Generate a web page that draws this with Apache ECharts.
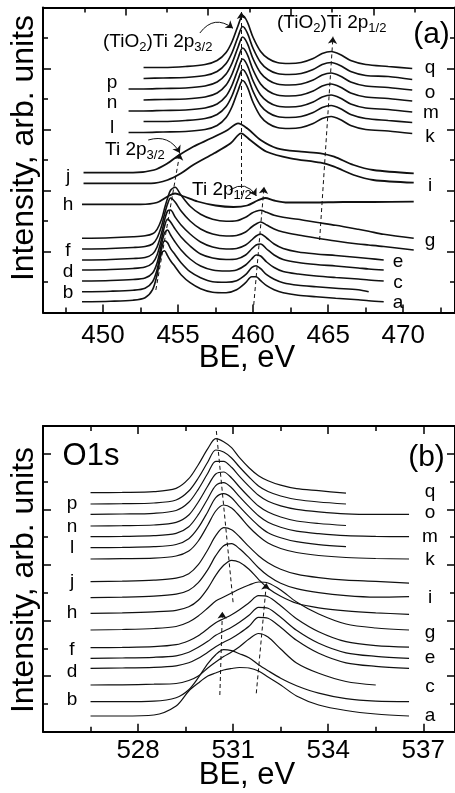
<!DOCTYPE html>
<html><head><meta charset="utf-8">
<script src="https://cdn.jsdelivr.net/npm/echarts/dist/echarts.min.js"></script>
<style>html,body{margin:0;padding:0;background:#fff}#c{width:455px;height:793px}</style>
</head><body><div id="c"></div>
<script>
// ---------------- Panel (a): Ti 2p ----------------
const A_TICKS_MAJOR = [450, 455, 460, 465, 470];
const A_TICKS_MINOR = [447.5, 452.5, 457.5, 462.5, 467.5, 472.5];
const A_LABELS = [450, 455, 460, 465, 470];

// upper group k..q (BE, eV)
const A_X_UP = [451.7, 452.7, 454.0, 455.5, 456.8, 457.6, 458.2, 458.6, 459.0, 459.3, 459.6, 460.0, 460.5, 461.0, 461.6, 462.4, 463.2, 464.0, 464.6, 465.2, 465.8, 466.5, 467.5, 469.0, 470.6];
const A_q = [null,245,245,246,248,252,260,271,287,297,291,275,261,254,250,249,250,254,259,261,258,252,248,246,244];
const A_p = [null,234,234.5,235,237,241,249,260,276,286,280,264,250,243,239,238,239,243,248,250,247,241,237,236,233];
const A_o = [223.5,223.5,224,224.5,226.5,230.5,238.5,249.5,265.5,275.5,269.5,253.5,239.5,232.5,228.5,227.5,228.5,232.5,237.5,239.5,236.5,230.5,226.5,225,222.5];
const A_n = [null,212.5,213,213.5,215.5,219.5,227.5,238.5,254.5,264.5,258.5,242.5,228.5,221.5,217.5,216.5,217.5,221.5,226.5,228.5,225.5,219.5,215.5,214,211.5];
const A_m = [201.5,201.5,202,202.5,204.5,208.5,216.5,227.5,243.5,253.5,247.5,231.5,217.5,210.5,206.5,205.5,206.5,210.5,215.5,217.5,214.5,208.5,204.5,203,200.5];
const A_l = [null,191,191,192,194,198,206,217,233,243,237,221,207,200,196,195,196,200,205,207,204,198,194,192,190];
const A_k = [180,180,180.5,181,183,187,195,206,222,232,226,210,196,189,185,184,185,189,194,196,193,187,183,181.5,179];

// middle group
const A_X_J = [448.7, 452.0, 453.4, 454.3, 454.9, 456.0, 457.2, 458.3, 459.0, 459.6, 460.5, 461.6, 463.2, 464.5, 465.4, 466.7, 468.0, 470.7];
const A_j = [139.8,139.8,142.5,149.2,155.8,165.8,174.2,182.5,189.2,184.2,172.5,164.2,160.8,159.2,155.8,147.5,142.5,139.2];
const A_X_I = [448.7, 453.2, 454.3, 455.2, 456.0, 457.4, 458.5, 459.2, 459.8, 460.9, 462.5, 464.5, 465.4, 466.7, 468.0, 470.7];
const A_i = [129.2,129.2,132.5,139.2,147.5,159.2,169.2,179.2,172.5,160.8,154.2,149.8,145.8,137.5,132.5,129.8];
const A_X_H = [448.6, 452.5, 453.6, 454.3, 454.8, 455.4, 456.3, 457.5, 458.7, 459.6, 460.3, 460.8, 461.4, 462.3, 464.0, 466.0, 468.0, 470.7];
const A_h = [108.2,108.2,110,116,119,116,111,107,105.5,107,112,114.5,112,110,110,110.5,110.5,110.8];

// lower group a..g
const A_X_LOW = [448.6, 450.5, 452.0, 452.8, 453.3, 453.6, 453.9, 454.1, 454.3, 454.5, 454.8, 455.2, 455.8, 456.5, 457.3, 458.2, 458.9, 459.5, 459.9, 460.2, 460.5, 460.9, 461.4, 462.0, 463.0, 464.2, 465.5, 467.0, 467.7, 468.7, 470.7];
const A_a = [10.8,11.3,12.3,14.8,22.8,37.8,59.8,61.8,56.8,51.8,45.8,37.8,29.8,23.8,20.3,19.8,22.8,29.8,35.8,35.8,31.8,26.8,22.8,19.8,17.3,15.8,14.3,12.8,11.8,10.8,null];
const A_b = [20.8,21.3,22.3,24.3,30.8,42.8,63.8,71.8,69.8,63.8,57.8,49.8,40.8,34.8,30.8,30.3,31.8,37.8,44.8,46.8,43.8,37.8,33.3,29.8,27.3,25.8,24.3,22.8,20.8,null,null];
const A_c = [31.5,32,33,34.5,39.5,49.5,68.5,79.5,82.5,77.5,70.5,62.5,53.5,46.5,42.5,41.5,42.5,47.5,53.5,57.5,56.5,50.5,45,41,38.5,36.5,35,33.5,32.5,31.5,null];
const A_d = [42.5,43,44,45.5,49.5,57.5,73.5,86.5,93.5,90.5,83.5,75.5,66.5,58.5,54.5,53,53.5,57.5,63.5,67.5,68.5,63.5,57.5,53,50,48,46.5,44.5,43.5,42.5,null];
const A_e = [52.5,53,54,55,58.5,65.5,79.5,92.5,101.5,102.5,95.5,87.5,78.5,70.5,65.5,63.5,64,67.5,72.5,76.5,78.5,74.5,68.5,64,60.5,58.5,57,55,54,52.5,null];
const A_f = [63.5,64,65,66,68.5,74.5,86.5,98.5,108.5,114.5,110.5,101.5,91.5,83.5,78.5,76.5,77,80.5,85.5,88.5,90.5,87.5,83.5,80.5,77.5,74.5,71.5,68.5,67.5,66,62.5];
const A_g = [74.2,74.7,75.7,76.7,78.7,83.2,93.2,104.2,114.2,122.2,125.2,117.2,106.2,98.2,93.2,91.2,91.7,95.2,99.2,101.2,102.2,100.2,97.2,95.2,93.2,90.2,87.2,83.2,81.2,78.2,74.2];

// ---------------- Panel (b): O 1s ----------------
const B_LABELS = [528, 531, 534, 537];
const B_X = [526.5, 527.5, 528.5, 529.2, 529.6, 529.9, 530.2, 530.45, 530.7, 530.95, 531.2, 531.5, 531.8, 532.1, 532.5, 533.0, 533.7, 534.56, 535.5, 536.55];
const B_q = [239,239.3,240,243.3,253,267,283,293,290,284,274,264,256,251,246.5,243,241,238.5,null,null];
const B_p = [227.7,228,228.7,231.7,240.7,253.7,269.7,281.7,279.7,273.7,264.7,254.7,245.7,240.2,235.7,232.2,229.7,227.7,null,null];
const B_o = [217.4,217.7,218.4,221.2,229.4,242.4,258.4,270.4,270.4,264.4,255.4,245.4,236.4,230.4,225.9,222.4,219.9,217.9,217.4,217.4];
const B_n = [205.7,206,206.7,209.3,216.7,229.7,245.7,257.7,259.7,253.7,244.7,234.7,225.7,219.7,214.7,210.7,208.2,206.2,null,null];
const B_m = [195,195.3,196,198.4,205,217,233,246,249,244,235,225,216,209.5,204.5,200.5,198,196,195.3,195];
const B_l = [184,184.3,185,187.2,193,204,220,234,238,234,225,215,206,199,194,190,187,185,null,null];
const B_k = [172.7,173,173.5,175.7,180.7,190.7,206.7,220.7,226.7,223.7,215.7,204.7,195.7,188.7,183.2,179.2,176.2,174.2,173.2,172.7];
const B_j = [150,150.5,151.5,153.5,158,167,182,196,204,202,195,185,176,169,162.5,157.5,154,151.5,150.3,148.5];
const B_i = [134,134.5,135.5,137.5,141.5,149,162,176,186,188,183,174,164,156,148.5,143,139,136,134.5,135];
const B_h = [118.4,118.9,119.9,121.4,124.9,131.4,143.4,156.4,166.4,171.4,169.4,162.4,152.4,143.4,135.4,128.4,123.9,120.9,118.9,117.4];
const B_g = [101.7,102.2,103.2,105.2,109.7,115.7,123.7,130.7,134.7,138.7,142.7,146.7,149.7,148.7,141.7,129.7,117.7,107.7,103.7,101.7];
const B_f = [84,84.3,85,87,91,96,103,109,113,117,122,129,136,135,126,113,100,90,86,84.5];
const B_e = [73.4,73.7,74.4,75.9,79.4,84.4,90.4,96.4,100.4,104.4,109.4,116.4,124.4,123.4,114.4,101.4,88.4,78.9,75.4,73.4];
const B_d = [63.4,63.7,64.4,65.9,68.9,73.4,79.4,84.9,89.4,93.4,98.4,105.4,114.4,113.4,104.4,91.4,78.4,68.9,65.4,63.4];
const B_c = [46.7,46.9,47.5,48.2,51.2,55.7,63.7,69.7,75.2,79.7,85,92.7,98.2,94.7,82.7,68.7,58.4,50.2,46.7,null];
const B_b = [30,30,30.5,34,42,54,68,77,82,81,78,74,67,61,53.5,46,38.5,33,30.5,30];
const B_a = [15.7,15.7,16.7,25.7,40.7,48.7,55.7,58.7,61.7,63.2,64.2,63.7,60.7,54.7,46.7,35.7,26.7,21.2,17.7,15.7];

// ---------------- build ----------------
const FONT = '"Liberation Sans", Arial, Helvetica, sans-serif';
const INK = '#111';
function pairs(xs, ys) {
  const out = [];
  xs.forEach((x, i) => { if (ys[i] !== null && ys[i] !== undefined) out.push([x, ys[i]]); });
  return out;
}
function curve(xs, ys, xi, yi, w) {
  return { type: 'line', xAxisIndex: xi, yAxisIndex: yi, data: pairs(xs, ys), symbol: 'none', showSymbol: false,
    smooth: 0.3, silent: true, animation: false, z: 3, lineStyle: { color: INK, width: w } };
}
const series = [];
[A_q, A_p, A_o, A_n, A_m, A_l, A_k].forEach(ys => series.push(curve(A_X_UP, ys, 0, 0, 1.7)));
series.push(curve(A_X_J, A_j, 0, 0, 1.8));
series.push(curve(A_X_I, A_i, 0, 0, 1.8));
series.push(curve(A_X_H, A_h, 0, 0, 1.8));
[A_a, A_b, A_c, A_d, A_e, A_f, A_g].forEach(ys => series.push(curve(A_X_LOW, ys, 0, 0, 1.6)));
[B_q, B_p, B_o, B_n, B_m, B_l, B_k, B_j, B_i, B_h, B_g, B_f, B_e, B_d, B_c, B_b, B_a]
  .forEach(ys => series.push(curve(B_X, ys, 3, 2, 1.2)));

// annotation arrows (data coordinates)
function arrow(coords, xi, yi, dashed, curveness, head) {
  return { type: 'lines', coordinateSystem: 'cartesian2d', xAxisIndex: xi, yAxisIndex: yi, silent: true, z: 4,
    symbol: ['none', head ? 'arrow' : 'none'], symbolSize: 7,
    lineStyle: { color: INK, width: 1, type: dashed ? [4, 3] : 'solid', curveness: curveness, opacity: 1 },
    data: [{ coords: coords }] };
}
series.push(arrow([[453.52, 22.5], [455.12, 159.5]], 0, 0, true, 0, true));
series.push(arrow([[460.04, 7.5], [460.73, 125.8]], 0, 0, true, 0, true));
series.push(arrow([[464.43, 72.5], [465.32, 275.8]], 0, 0, true, 0, true));
series.push(arrow([[459.22, 117.5], [459.22, 300.5]], 0, 0, true, 0, true));
series.push(arrow([[456.45, 279.5], [458.66, 284.2]], 0, 0, false, 0.5, true));
series.push(arrow([[453.01, 172.5], [455.12, 159.5]], 0, 0, false, 0.4, true));
series.push(arrow([[458.44, 122.5], [460.22, 116.5]], 0, 0, false, 0.5, true));
series.push(arrow([[530.47, 300.7], [531.0, 128.7]], 3, 2, true, 0, false));
series.push(arrow([[530.58, 36.7], [530.66, 120]], 3, 2, true, 0, true));
series.push(arrow([[531.73, 38.4], [532.05, 148.7]], 3, 2, true, 0, true));

const axisLineStyle = { color: '#000', width: 2 };
const tickStyle = { color: '#000', width: 1.5 };
function hiddenLabel() { return { show: false }; }
const xAxes = [
  { gridIndex: 0, type: 'value', position: 'bottom', min: 446, max: 473.45,
    axisLine: { show: true, onZero: false, lineStyle: axisLineStyle },
    axisTick: { show: true, inside: true, length: 8, customValues: A_TICKS_MAJOR, lineStyle: tickStyle },
    axisLabel: { show: true, customValues: A_LABELS, fontSize: 26, fontFamily: FONT, color: '#000', margin: 10 },
    splitLine: { show: false } },
  { gridIndex: 0, type: 'value', position: 'bottom', min: 446, max: 473.45,
    axisLine: { show: false, onZero: false },
    axisTick: { show: true, inside: true, length: 5, customValues: A_TICKS_MINOR, lineStyle: tickStyle },
    axisLabel: hiddenLabel(), splitLine: { show: false } },
  { gridIndex: 0, type: 'value', position: 'top', min: 0, max: 24.95, interval: 5,
    axisLine: { show: true, onZero: false, lineStyle: axisLineStyle },
    axisTick: { show: true, inside: true, length: 8, lineStyle: tickStyle },
    minorTick: { show: true, splitNumber: 2, length: 5, lineStyle: tickStyle },
    axisLabel: hiddenLabel(), splitLine: { show: false } },
  { gridIndex: 1, type: 'value', position: 'bottom', min: 525, max: 538, interval: 3,
    axisLine: { show: true, onZero: false, lineStyle: axisLineStyle },
    axisTick: { show: true, inside: true, length: 8, lineStyle: tickStyle },
    minorTick: { show: true, splitNumber: 2, length: 5, lineStyle: tickStyle },
    axisLabel: { show: true, customValues: B_LABELS, fontSize: 26, fontFamily: FONT, color: '#000', margin: 6 },
    splitLine: { show: false } },
  { gridIndex: 1, type: 'value', position: 'top', min: 525, max: 538, interval: 3,
    axisLine: { show: true, onZero: false, lineStyle: axisLineStyle },
    axisTick: { show: true, inside: true, length: 8, lineStyle: tickStyle },
    minorTick: { show: true, splitNumber: 2, length: 5, lineStyle: tickStyle },
    axisLabel: hiddenLabel(), splitLine: { show: false } }
];
function yAx(grid, pos, max, interval) {
  return { gridIndex: grid, type: 'value', position: pos, min: 0, max: max, interval: interval,
    axisLine: { show: true, onZero: false, lineStyle: axisLineStyle },
    axisTick: { show: true, inside: true, length: 8, lineStyle: tickStyle },
    minorTick: { show: true, splitNumber: 2, length: 5, lineStyle: tickStyle },
    axisLabel: hiddenLabel(), splitLine: { show: false } };
}
const yAxes = [yAx(0, 'left', 305, 61), yAx(0, 'right', 305, 61), yAx(1, 'left', 305.7, 55.6), yAx(1, 'right', 305.7, 55.6)];

function txt(x, y, s, size, align, rot) {
  return { type: 'text', x: x, y: y, rotation: rot || 0, silent: true, z: 10,
    style: { text: s, fontSize: size, fontFamily: FONT, fill: '#000', align: align || 'center', verticalAlign: 'middle' } };
}
function sub(x, y, a, s1, b, s2) {
  return { type: 'text', x: x, y: y, silent: true, z: 10,
    style: { text: '{m|' + a + '}{s|' + s1 + '}{m|' + b + '}{s|' + s2 + '}', align: 'left', verticalAlign: 'middle',
      rich: { m: { fontSize: 19, fontFamily: FONT, fill: '#000', lineHeight: 24, verticalAlign: 'middle' },
               s: { fontSize: 13, fontFamily: FONT, fill: '#000', lineHeight: 24, verticalAlign: 'bottom' } } } };
}
const graphics = [
  txt(24, 148, 'Intensity, arb. units', 32, 'center', Math.PI / 2),
  txt(247, 358, 'BE, eV', 31),
  txt(24, 580, 'Intensity, arb. units', 32, 'center', Math.PI / 2),
  txt(247, 775, 'BE, eV', 31),
  txt(431.5, 35, '(a)', 30),
  txt(426.5, 457.5, '(b)', 30),
  txt(91, 456, 'O1s', 31),
  sub(103, 42, '(TiO', '2', ')Ti 2p', '3/2'),
  sub(277, 23, '(TiO', '2', ')Ti 2p', '1/2'),
  sub(105, 150, 'Ti 2p', '3/2', '', ''),
  sub(192, 190, 'Ti 2p', '1/2', '', '')
];
const LETTERS = [
  // panel a right
  ['q', 430, 68], ['o', 430, 93], ['m', 431, 113], ['k', 430, 137], ['i', 430, 186], ['g', 430, 241],
  ['e', 398, 262], ['c', 398, 283], ['a', 398, 303],
  // panel a left
  ['p', 112, 83], ['n', 112, 103], ['l', 112, 128], ['j', 68, 177], ['h', 68, 205], ['f', 68, 251], ['d', 68, 272], ['b', 68, 293],
  // panel b right
  ['q', 430, 492], ['o', 430, 513], ['m', 430, 537], ['k', 430, 560], ['i', 430, 598], ['g', 430, 633], ['e', 430, 658], ['c', 430, 687], ['a', 430, 716],
  // panel b left
  ['p', 72, 504], ['n', 72, 527], ['l', 72, 548], ['j', 72, 582], ['h', 72, 613], ['f', 72, 650], ['d', 72, 672], ['b', 72, 700]
];
LETTERS.forEach(L => graphics.push(txt(L[1], L[2], L[0], 19)));

const chart = echarts.init(document.getElementById('c'), null, { renderer: 'canvas' });
chart.setOption({
  animation: false,
  backgroundColor: '#fff',
  grid: [
    { left: 43, top: 7.5, width: 412.5, height: 305, containLabel: false },
    { left: 43, top: 426, width: 412.5, height: 305.7, containLabel: false }
  ],
  xAxis: xAxes,
  yAxis: yAxes,
  series: series,
  graphic: graphics
});
</script></body></html>
